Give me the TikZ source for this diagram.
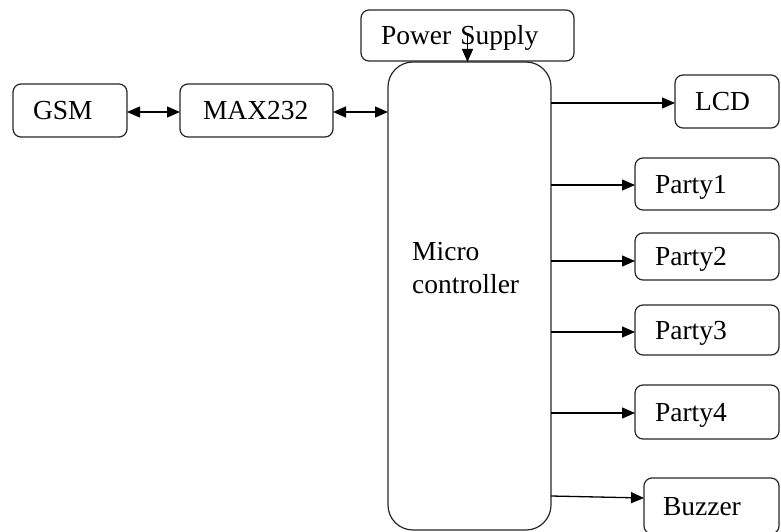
\documentclass[tikz,border=0pt]{standalone}
\usepackage{fontspec}
\setmainfont{Liberation Serif}
\usetikzlibrary{arrows.meta}
\begin{document}
\begin{tikzpicture}[x=1pt,y=-1pt,
  every node/.style={font=\fontsize{27.5}{33}\selectfont},
  box/.style={draw=black!85, line width=1.2pt, rounded corners=8pt, anchor=north west,
    outer sep=0pt, inner ysep=0pt, align=left, text height=18pt, text depth=0pt},
  tip/.tip={Triangle[length=13pt,width=11pt]},
  arr/.style={line width=1.3pt, -tip},
  darr/.style={line width=1.3pt, tip-tip}]
\useasboundingbox (0,0) rectangle (781,532);
\clip (0,0) rectangle (781,532);
% boxes
\node[box, inner xsep=20pt, text width=173pt, minimum height=51pt] (ps) at (361,10) {Power Supply};
\node[box, inner xsep=20pt, text width=74pt, minimum height=53pt] (gsm) at (13,84) {GSM};
\node[box, inner xsep=23pt, text width=107pt, minimum height=53pt] (max) at (180,84) {MAX232};
\node[draw=black!85, line width=1.2pt, rounded corners=25pt, anchor=north west, outer sep=0pt,
  minimum width=163pt, minimum height=468pt, inner sep=0pt,
  label={[anchor=north west, inner sep=0pt, align=left, xshift=24pt, yshift=-180pt]north west:Micro\\controller}] (mc) at (388,62) {};
\node[box, inner xsep=20pt, text width=64pt, minimum height=53pt] (lcd) at (675,75) {LCD};
\node[box, inner xsep=20pt, text width=104pt, minimum height=52pt] (p1) at (635,158) {Party1};
\node[box, inner xsep=20pt, text width=104pt, minimum height=47pt] (p2) at (635,233) {Party2};
\node[box, inner xsep=20pt, text width=104pt, minimum height=50pt] (p3) at (635,305) {Party3};
\node[box, inner xsep=20pt, text width=104pt, minimum height=54pt] (p4) at (635,385) {Party4};
\node[box, inner xsep=19pt, text width=97pt, minimum height=56pt] (bz) at (644,478) {Buzzer};
% connectors
\draw[darr] ([yshift=-1.5pt]gsm.east) -- ([yshift=-1.5pt]max.west);
\draw[darr] ([yshift=-1.5pt]max.east) -- ([yshift=-1.5pt]max.east -| mc.west);
\draw[arr] (ps.center) -- (ps.center |- mc.north);
\draw[arr] ([yshift=-1.5pt]lcd.west -| mc.east) -- ([yshift=-1.5pt]lcd.west);
\draw[arr] ([yshift=-1pt]p1.west -| mc.east) -- ([yshift=-1pt]p1.west);
\draw[arr] ([yshift=-4.5pt]p2.west -| mc.east) -- ([yshift=-4.5pt]p2.west);
\draw[arr] ([yshift=-2pt]p3.west -| mc.east) -- ([yshift=-2pt]p3.west);
\draw[arr] ([yshift=-1pt]p4.west -| mc.east) -- ([yshift=-1pt]p4.west);
\draw[arr] ([yshift=10pt]bz.west -| mc.east) -- ([yshift=8pt]bz.west);
\end{tikzpicture}
\end{document}
